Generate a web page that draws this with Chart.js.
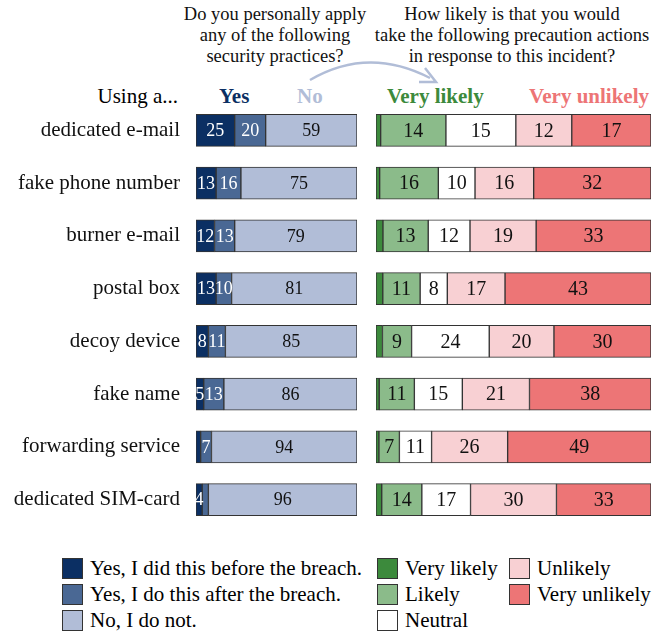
<!DOCTYPE html>
<html>
<head>
<meta charset="utf-8">
<script src="https://cdn.jsdelivr.net/npm/chart.js@4.4.1/dist/chart.umd.min.js"></script>
<style>
  body { margin: 0; background: #fff; font-family: "Liberation Serif", "Times New Roman", serif; }
  #wrap { position: relative; width: 663px; height: 636px; overflow: hidden; }
  .abs { position: absolute; }
  .q { font-size: 18.5px; line-height: 21px; text-align: center; color: #111; }
  .hd { font-size: 21px; top: 84px; white-space: nowrap; }
  .legend-item { position: absolute; font-size: 21px; line-height: 20px; white-space: nowrap; }
  .legend-item span.box { position: absolute; left: 0; top: 0; width: 21px; height: 21px; box-sizing: border-box; border: 1px solid #333; }
  .legend-item span.txt { position: absolute; left: 28px; top: 0; }
</style>
</head>
<body>
<div id="wrap">
  <div class="abs q" style="left:160px; top:4px; width:230px;">Do you personally apply<br>any of the following<br>security practices?</div>
  <div class="abs q" style="left:352px; top:4px; width:320px;">How likely is that you would<br>take the following precaution actions<br>in response to this incident?</div>
  <svg class="abs" style="left:0; top:0;" width="663" height="110">
    <path d="M310,80 Q368,46 430,78" fill="none" stroke="#b1bdd7" stroke-width="2.5"/>
    <path d="M425,68 L436,82 L419,82" fill="none" stroke="#b1bdd7" stroke-width="2.5"/>
  </svg>
  <div class="abs hd" style="left:0; width:178px; text-align:right;">Using a...</div>
  <div class="abs hd" style="left:219px; font-weight:bold; color:#0b2f63;">Yes</div>
  <div class="abs hd" style="left:297px; font-weight:bold; color:#b1bdd7;">No</div>
  <div class="abs hd" style="left:387px; font-weight:bold; color:#3c8a3c;">Very likely</div>
  <div class="abs hd" style="left:529px; font-weight:bold; color:#ed7576;">Very unlikely</div>

  <canvas id="left" class="abs" style="left:0; top:104px;" width="358" height="422"></canvas>
  <canvas id="right" class="abs" style="left:376px; top:104px;" width="276" height="422"></canvas>
  <div id="legend"></div>
</div>
<script>
const categories = ['dedicated e-mail', 'fake phone number', 'burner e-mail', 'postal box',
                    'decoy device', 'fake name', 'forwarding service', 'dedicated SIM-card'];

// left panel: practices (counts out of 104 participants)
const yesBefore = [25, 13, 12, 13, 8, 5, 3, 4];
const yesAfter  = [20, 16, 13, 10, 11, 13, 7, 4];
const noPractice = [59, 75, 79, 81, 85, 86, 94, 96];

// right panel: answers of the participants who said "No"
const veryLikely   = [1, 1, 2, 2, 2, 1, 1, 2];
const likely       = [14, 16, 13, 11, 9, 11, 7, 14];
const neutral      = [15, 10, 12, 8, 24, 15, 11, 17];
const unlikely     = [12, 16, 19, 17, 20, 21, 26, 30];
const veryUnlikely = [17, 32, 33, 43, 30, 38, 49, 33];

const leftLabels  = ['Yes, I did this before the breach.', 'Yes, I do this after the breach.', 'No, I do not.'];
const rightLabels = ['Very likely', 'Likely', 'Neutral', 'Unlikely', 'Very unlikely'];

const leftColors  = ['#0b2f63', '#4a6894', '#b1bdd7'];
const rightColors = ['#3c8a3c', '#8bbb8a', '#ffffff', '#f8d0d3', '#ed7576'];
const leftText    = ['#ffffff', '#ffffff', '#111111'];

// segments that carry no number in the original (too thin)
const noLabel = ['0-6', '1-7'];

const FONT = '"Liberation Serif", "Times New Roman", serif';

// draws the count in the middle of every segment
const valueLabels = {
  id: 'valueLabels',
  afterDatasetsDraw(chart, args, opts) {
    const ctx = chart.ctx;
    ctx.save();
    ctx.font = opts.size + 'px ' + FONT;
    ctx.textAlign = 'center';
    ctx.textBaseline = 'middle';
    chart.data.datasets.forEach((ds, i) => {
      if (ds.hideLabels) return;
      chart.getDatasetMeta(i).data.forEach((bar, j) => {
        const v = ds.raw[j];
        if (!v) return;
        if (opts.skip && opts.skip.includes(i + '-' + j)) return;
        const cx = (bar.x + bar.base) / 2;
        ctx.fillStyle = ds.textColor;
        ctx.fillText(String(v), cx, bar.y + 1);
      });
    });
    ctx.restore();
  }
};

function barOptions(showY, maxX, valueSize, skip) {
  return {
    indexAxis: 'y',
    responsive: false,
    animation: false,
    layout: { padding: { left: 0, right: 1, top: 0, bottom: 0 } },
    plugins: {
      legend: { display: false },
      tooltip: { enabled: false },
      valueLabels: { size: valueSize, skip: skip }
    },
    scales: {
      x: { stacked: true, display: false, min: 0, max: maxX },
      y: {
        stacked: true,
        display: showY,
        grid: { display: false, drawTicks: false },
        border: { display: false },
        ticks: { color: '#111', font: { family: FONT, size: 21 }, padding: 16 },
        afterFit(scale) {
          if (!showY) return;
          scale.width = 196;
          scale.paddingTop = 0;
          scale.paddingBottom = 0;
        }
      }
    }
  };
}

function makeSet(label, values, color, textColor, shown) {
  return {
    label: label, data: shown, raw: values,
    backgroundColor: color, borderColor: '#333', borderWidth: 1, borderSkipped: false,
    barThickness: 32, textColor: textColor
  };
}

const leftSeries = [yesBefore, yesAfter, noPractice];
new Chart(document.getElementById('left'), {
  type: 'bar',
  data: {
    labels: categories,
    datasets: leftSeries.map((s, i) => makeSet(leftLabels[i], s, leftColors[i], leftText[i], s))
  },
  options: barOptions(true, 104, 18, noLabel),
  plugins: [valueLabels]
});

// each row on the right is scaled to the full width (share of the "No" group)
const rightSeries = [veryLikely, likely, neutral, unlikely, veryUnlikely];
const rowTotals = categories.map((c, j) => rightSeries.reduce((a, s) => a + s[j], 0));
const rightSets = rightSeries.map((s, i) =>
  makeSet(rightLabels[i], s, rightColors[i], '#111', s.map((v, j) => v / rowTotals[j] * 100)));
rightSets[0].hideLabels = true;
new Chart(document.getElementById('right'), {
  type: 'bar',
  data: { labels: categories, datasets: rightSets },
  options: barOptions(false, 100, 20, []),
  plugins: [valueLabels]
});

// legend, three columns
const legendItems = [
  [leftLabels[0], leftColors[0], 62, 558], [leftLabels[1], leftColors[1], 62, 584], [leftLabels[2], leftColors[2], 62, 610],
  [rightLabels[0], rightColors[0], 377, 558], [rightLabels[1], rightColors[1], 377, 584], [rightLabels[2], rightColors[2], 377, 610],
  [rightLabels[3], rightColors[3], 509, 558], [rightLabels[4], rightColors[4], 509, 584]
];
const lg = document.getElementById('legend');
legendItems.forEach(([text, color, x, y]) => {
  const d = document.createElement('div');
  d.className = 'legend-item';
  d.style.left = x + 'px';
  d.style.top = y + 'px';
  d.innerHTML = '<span class="box" style="background:' + color + '"></span><span class="txt"></span>';
  d.querySelector('.txt').textContent = text;
  lg.appendChild(d);
});
</script>
</body>
</html>
